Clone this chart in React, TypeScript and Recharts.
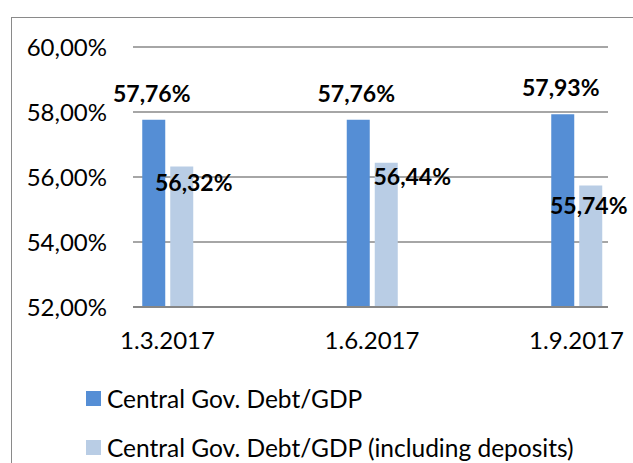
import { BarChart, Bar, XAxis, YAxis, CartesianGrid, Legend, LabelList } from "recharts";

const dates = ["1.3.2017", "1.6.2017", "1.9.2017"];
const debtToGdp = [57.76, 57.76, 57.93];
const debtInclDeposits = [56.32, 56.44, 55.74];
const yTicks = [52, 54, 56, 58, 60];

const data = dates.map((d, i) => ({
  date: d,
  debt: debtToGdp[i],
  deposits: debtInclDeposits[i],
}));

const FONT = "Lato, 'Open Sans', sans-serif";
const fmt = (v: number) => v.toFixed(2).replace(".", ",") + "%";

// hand-placed labels for the light series, like the source
const lightNudge = [
  { dx: 12, dy: 15 },
  { dx: 26, dy: 13 },
  { dx: -2, dy: 20 },
];

const darkLabel = (p: any) => (
  <text
    x={p.x + p.width / 2 - 2}
    y={p.y - 27}
    textAnchor="middle"
    dominantBaseline="central"
    fontFamily={FONT}
    fontSize={23}
    fontWeight="bold"
    fill="#000"
  >
    {fmt(p.value)}
  </text>
);

const lightLabel = (p: any) => {
  const n = lightNudge[p.index] || { dx: 0, dy: 0 };
  return (
    <text
      x={p.x + p.width / 2 + n.dx}
      y={p.y + n.dy}
      textAnchor="middle"
      dominantBaseline="central"
      fontFamily={FONT}
      fontSize={23}
      fontWeight="bold"
      fill="#000"
    >
      {fmt(p.value)}
    </text>
  );
};

const renderLegend = (props: any) => (
  <div style={{ fontFamily: FONT, fontSize: 24.5, color: "#000", whiteSpace: "nowrap" }}>
    {props.payload.map((e: any) => (
      <div key={e.value} style={{ display: "flex", alignItems: "center", height: 49 }}>
        <span style={{ width: 15, height: 15, background: e.color, marginRight: 6, display: "inline-block" }} />
        {e.value}
      </div>
    ))}
  </div>
);

export default function App() {
  return (
    <div style={{ position: "absolute", left: 0, top: 0, width: 633, height: 463, overflow: "hidden", background: "#fff" }}>
      <div
        style={{
          position: "absolute",
          left: 11,
          top: 17,
          width: 700,
          height: 500,
          border: "1.5px solid #8a8a8a",
        }}
      />
      <div style={{ position: "absolute", left: 0, top: 0 }}>
        <BarChart
          width={633}
          height={463}
          data={data}
          margin={{ top: 47, right: 25, left: 0, bottom: 116 }}
          barSize={23}
          barGap={5}
        >
          <CartesianGrid vertical={false} stroke="#a6a6a6" strokeWidth={2} />
          <XAxis
            dataKey="date"
            padding={{ left: -67.75, right: -70.75 }}
            height={40}
            tickLine={false}
            tickSize={0}
            tickMargin={25}
            axisLine={{ stroke: "#868686", strokeWidth: 2 }}
            tick={{ fill: "#000", fontSize: 24, fontFamily: FONT }}
          />
          <YAxis
            domain={[52, 60]}
            ticks={yTicks}
            width={133}
            axisLine={false}
            tickLine={false}
            tickSize={0}
            tickMargin={26}
            tickFormatter={fmt}
            tick={{ fill: "#000", fontSize: 24, fontFamily: FONT }}
          />
          <Legend
            layout="vertical"
            align="center"
            verticalAlign="middle"
            content={renderLegend}
            wrapperStyle={{ position: "absolute", left: 86, top: 374, width: "auto" }}
          />
          <Bar dataKey="debt" name="Central Gov. Debt/GDP" fill="#558ed5" isAnimationActive={false}>
            <LabelList dataKey="debt" content={darkLabel} />
          </Bar>
          <Bar
            dataKey="deposits"
            name="Central Gov. Debt/GDP (including deposits)"
            fill="#b9cde5"
            isAnimationActive={false}
          >
            <LabelList dataKey="deposits" content={lightLabel} />
          </Bar>
        </BarChart>
      </div>
    </div>
  );
}
